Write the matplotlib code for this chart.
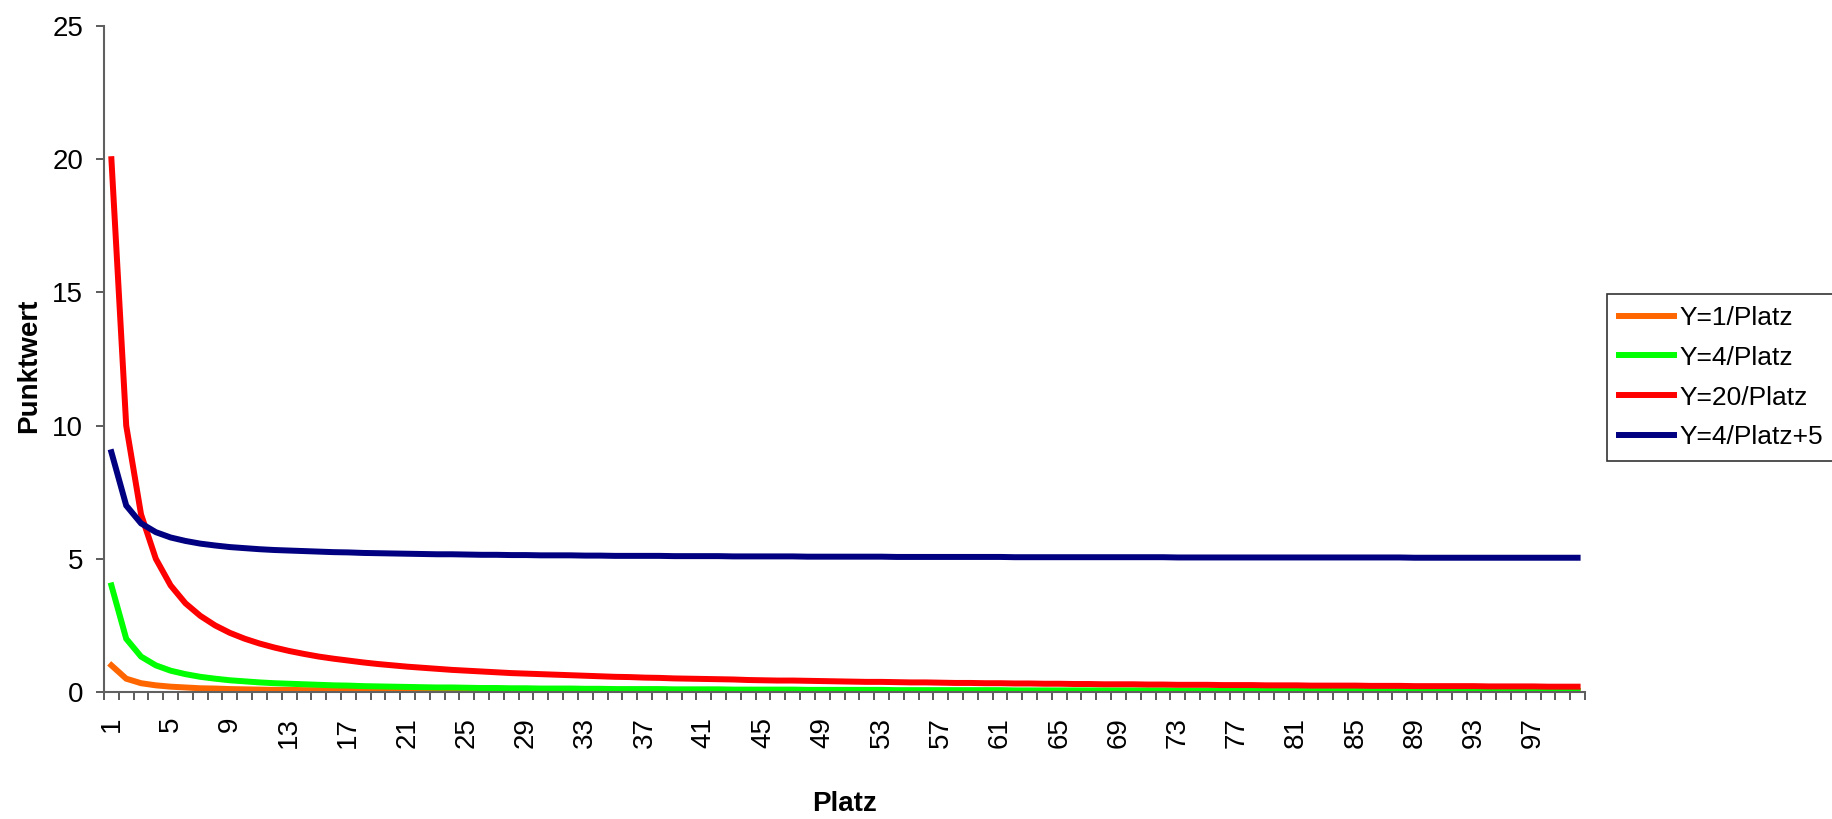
import matplotlib
matplotlib.use("Agg")
import matplotlib.pyplot as plt
import numpy as np

plt.rcParams['font.family'] = ['Liberation Sans', 'DejaVu Sans']
fs = 20

# Platz 1..100 (category axis)
platz = list(range(1, 101))

# values
y_1 = [1.00, 0.50, 0.33, 0.25, 0.20, 0.17, 0.14, 0.13, 0.11, 0.10,
       0.09, 0.08, 0.08, 0.07, 0.07, 0.06, 0.06, 0.06, 0.05, 0.05,
       0.05, 0.05, 0.04, 0.04, 0.04, 0.04, 0.04, 0.04, 0.03, 0.03,
       0.03, 0.03, 0.03, 0.03, 0.03, 0.03, 0.03, 0.03, 0.03, 0.03,
       0.02, 0.02, 0.02, 0.02, 0.02, 0.02, 0.02, 0.02, 0.02, 0.02,
       0.02, 0.02, 0.02, 0.02, 0.02, 0.02, 0.02, 0.02, 0.02, 0.02,
       0.02, 0.02, 0.02, 0.02, 0.02, 0.02, 0.01, 0.01, 0.01, 0.01,
       0.01, 0.01, 0.01, 0.01, 0.01, 0.01, 0.01, 0.01, 0.01, 0.01,
       0.01, 0.01, 0.01, 0.01, 0.01, 0.01, 0.01, 0.01, 0.01, 0.01,
       0.01, 0.01, 0.01, 0.01, 0.01, 0.01, 0.01, 0.01, 0.01, 0.01]

y_4 = [4.00, 2.00, 1.33, 1.00, 0.80, 0.67, 0.57, 0.50, 0.44, 0.40,
       0.36, 0.33, 0.31, 0.29, 0.27, 0.25, 0.24, 0.22, 0.21, 0.20,
       0.19, 0.18, 0.17, 0.17, 0.16, 0.15, 0.15, 0.14, 0.14, 0.13,
       0.13, 0.13, 0.12, 0.12, 0.11, 0.11, 0.11, 0.11, 0.10, 0.10,
       0.10, 0.10, 0.09, 0.09, 0.09, 0.09, 0.09, 0.08, 0.08, 0.08,
       0.08, 0.08, 0.08, 0.07, 0.07, 0.07, 0.07, 0.07, 0.07, 0.07,
       0.07, 0.06, 0.06, 0.06, 0.06, 0.06, 0.06, 0.06, 0.06, 0.06,
       0.06, 0.06, 0.05, 0.05, 0.05, 0.05, 0.05, 0.05, 0.05, 0.05,
       0.05, 0.05, 0.05, 0.05, 0.05, 0.05, 0.05, 0.05, 0.04, 0.04,
       0.04, 0.04, 0.04, 0.04, 0.04, 0.04, 0.04, 0.04, 0.04, 0.04]

y_20 = [20.0, 10.0, 6.67, 5.00, 4.00, 3.33, 2.86, 2.50, 2.22, 2.00,
        1.82, 1.67, 1.54, 1.43, 1.33, 1.25, 1.18, 1.11, 1.05, 1.00,
        0.95, 0.91, 0.87, 0.83, 0.80, 0.77, 0.74, 0.71, 0.69, 0.67,
        0.65, 0.63, 0.61, 0.59, 0.57, 0.56, 0.54, 0.53, 0.51, 0.50,
        0.49, 0.48, 0.47, 0.45, 0.44, 0.43, 0.43, 0.42, 0.41, 0.40,
        0.39, 0.38, 0.38, 0.37, 0.36, 0.36, 0.35, 0.34, 0.34, 0.33,
        0.33, 0.32, 0.32, 0.31, 0.31, 0.30, 0.30, 0.29, 0.29, 0.29,
        0.28, 0.28, 0.27, 0.27, 0.27, 0.26, 0.26, 0.26, 0.25, 0.25,
        0.25, 0.24, 0.24, 0.24, 0.24, 0.23, 0.23, 0.23, 0.22, 0.22,
        0.22, 0.22, 0.22, 0.21, 0.21, 0.21, 0.21, 0.20, 0.20, 0.20]

y_4p5 = [9.00, 7.00, 6.33, 6.00, 5.80, 5.67, 5.57, 5.50, 5.44, 5.40,
         5.36, 5.33, 5.31, 5.29, 5.27, 5.25, 5.24, 5.22, 5.21, 5.20,
         5.19, 5.18, 5.17, 5.17, 5.16, 5.15, 5.15, 5.14, 5.14, 5.13,
         5.13, 5.13, 5.12, 5.12, 5.11, 5.11, 5.11, 5.11, 5.10, 5.10,
         5.10, 5.10, 5.09, 5.09, 5.09, 5.09, 5.09, 5.08, 5.08, 5.08,
         5.08, 5.08, 5.08, 5.07, 5.07, 5.07, 5.07, 5.07, 5.07, 5.07,
         5.07, 5.06, 5.06, 5.06, 5.06, 5.06, 5.06, 5.06, 5.06, 5.06,
         5.06, 5.06, 5.05, 5.05, 5.05, 5.05, 5.05, 5.05, 5.05, 5.05,
         5.05, 5.05, 5.05, 5.05, 5.05, 5.05, 5.05, 5.05, 5.04, 5.04,
         5.04, 5.04, 5.04, 5.04, 5.04, 5.04, 5.04, 5.04, 5.04, 5.04]

labels = ['Y=1/Platz', 'Y=4/Platz', 'Y=20/Platz', 'Y=4/Platz+5']
colors = ['#FF6600', '#00FF00', '#FF0000', '#000080']

fig = plt.figure(figsize=(18.33, 8.19), dpi=100)
ax = fig.add_axes([104/1833, 1 - 692/819, (1585 - 104)/1833, (692 - 26)/819])

for ys, lab, col in zip([y_1, y_4, y_20, y_4p5], labels, colors):
    ax.plot(platz, ys, color=col, lw=4.3, label=lab, solid_joinstyle='miter')

ax.set_xlim(0.5, 100.5)
ax.set_ylim(0, 25)
ax.set_yticks([0, 5, 10, 15, 20, 25])

# category axis: tick marks between categories, labels every 4th
ax.set_xticks(platz[::4])
ax.set_xticklabels([str(p) for p in platz[::4]], rotation=90)
ax.set_xticks(np.arange(0.5, 101, 1), minor=True)
ax.tick_params(axis='x', which='major', length=0, pad=18, labelsize=fs)
ax.tick_params(axis='x', which='minor', length=6, width=1.2, color='#404040', direction='out')
ax.tick_params(axis='y', length=6, width=1.2, color='#404040', direction='out', pad=9, labelsize=fs)

for s in ['top', 'right']:
    ax.spines[s].set_visible(False)
for s in ['left', 'bottom']:
    ax.spines[s].set_color('#606060')
    ax.spines[s].set_linewidth(1.5)

ax.set_xlabel('Platz', fontsize=fs, fontweight='bold')
ax.xaxis.set_label_coords(0.5, -0.148)
ax.set_ylabel('Punktwert', fontsize=fs, fontweight='bold')
ax.yaxis.set_label_coords(-0.042, 0.49)

leg = fig.legend(loc='upper left', bbox_to_anchor=(1607/1833, 1 - 294/819),
                 prop={'size': 19}, frameon=True, fancybox=False, borderpad=0.45,
                 labelspacing=0.6, handlelength=2.08, handletextpad=0.2,
                 borderaxespad=0)
leg.get_frame().set_edgecolor('black')
leg.get_frame().set_linewidth(1.2)

fig.savefig('out.png', dpi=100)
